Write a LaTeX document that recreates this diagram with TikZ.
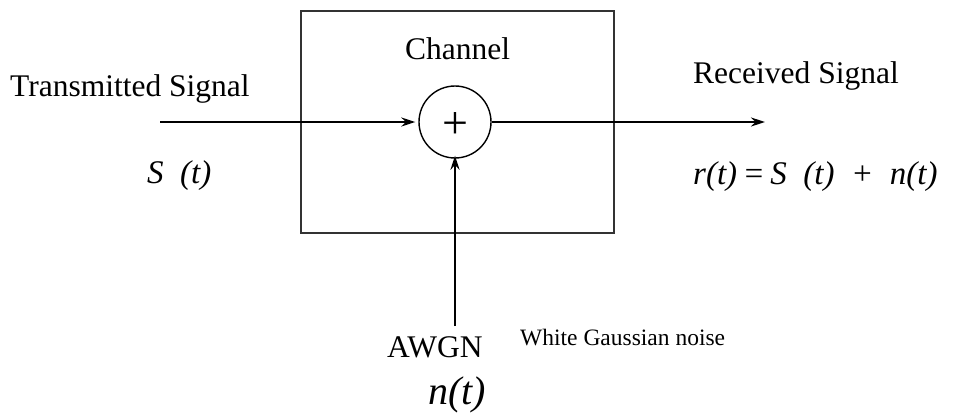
\documentclass[tikz,border=0pt]{standalone}
\usepackage{fontspec}
\setmainfont{Liberation Serif}
\usetikzlibrary{arrows.meta}
\begin{document}
\begin{tikzpicture}[x=1pt,y=-1pt,
  lbl/.style={inner sep=0pt,anchor=base west,font=\fontsize{31.5}{36}\selectfont},
  mth/.style={inner sep=0pt,anchor=base west,font=\fontsize{33}{38}\selectfont\itshape},
  conn/.style={line width=2pt,-{Stealth[length=14pt,width=9pt]}},
  ]
\useasboundingbox (0,0) rectangle (958,418);
\node[draw=black!80,line width=2pt,minimum width=313pt,minimum height=222pt,inner sep=0pt] (box) at (457.5,122) {};
\node[draw,circle,line width=1.4pt,minimum size=72pt,inner sep=0pt] (sum) at (455,122) {};
\node[font=\fontsize{46}{50}\selectfont,inner sep=0pt,yshift=-4pt] (plus) at (sum.center) {+};
\coordinate (in) at (160,122);
\coordinate (out) at (765,122);
\coordinate (noise) at (455,326);
\draw[conn] (in) -- ([xshift=-3pt]sum.west);
\draw[conn] (sum.east) -- (out);
\draw[conn] (noise) -- ([yshift=3pt]sum.south);
\node[lbl] (tx) at (10,96) {Transmitted Signal};
\node[lbl] (ch) at (405,59) {Channel};
\node[lbl] (rx) at (693,83) {Received Signal};
\node[mth] (st) at (147,183) {S\ \ (t)};
\node[mth] (rt) at (693,184) {r(t)\,=\,S\ \ (t)\ \ +\ \ n(t)};
\node[lbl] (awgn) at (387,357) {AWGN};
\node[inner sep=0pt,anchor=base west,font=\fontsize{23.5}{28}\selectfont] (wgn) at (520,345) {White Gaussian noise};
\node[mth,font=\fontsize{40}{44}\selectfont\itshape] (nt) at (428,404) {n(t)};
\end{tikzpicture}
\end{document}
